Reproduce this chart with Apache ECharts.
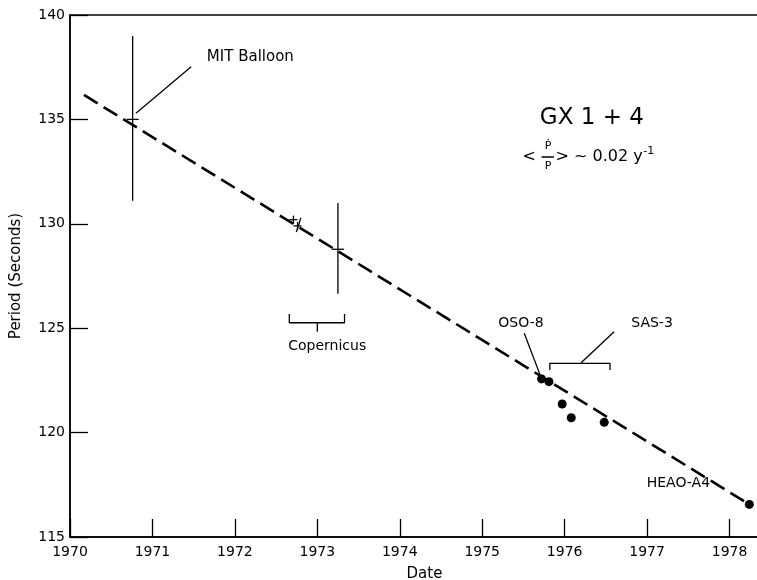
<!DOCTYPE html>
<html>
<head>
<meta charset="utf-8">
<script src="https://cdn.jsdelivr.net/npm/echarts@6/dist/echarts.min.js"></script>
<style>
  html, body { margin: 0; padding: 0; background: #fff; }
  #main { width: 757px; height: 580px; }
</style>
</head>
<body>
<div id="main"></div>
<script>
var myChart = echarts.init(document.getElementById('main'));

// fitted trend, <Pdot/P> ~ 0.02 / yr
var fitLine = [[1970.17, 136.17], [1978.24, 116.56]];
// [date, period, low, high]
var errorPoints = [[1970.76, 135.0, 131.1, 139.0], [1973.25, 128.78, 126.65, 131.0]];
// Copernicus points without bars
var crossPoints = [[1972.71, 130.2], [1972.76, 129.9]];
// OSO-8, SAS-3, HEAO-A4
var filledPoints = [
    [1975.72, 122.57], [1975.81, 122.44], [1975.97, 121.37],
    [1976.08, 120.71], [1976.48, 120.49], [1978.24, 116.56]
];
// leaders and brackets
var leaders = [
    [[1971.47, 137.52], [1970.80, 135.29]],
    [[1972.66, 125.68], [1972.66, 125.26], [1973.33, 125.26], [1973.33, 125.68]],
    [[1973.0, 125.26], [1973.0, 124.83]],
    [[1975.51, 124.76], [1975.71, 122.68]],
    [[1975.82, 123.0], [1975.82, 123.32], [1976.55, 123.32], [1976.55, 123.0]],
    [[1976.20, 123.35], [1976.60, 124.83]],
    [[1972.80, 130.29], [1972.746, 129.61]],
    [[1975.72, 133.2], [1975.87, 133.2]]
];
var labelsCenter = [
    [1973.12, 124.11, 'Copernicus'],
    [1975.47, 125.23, 'OSO-8'],
    [1977.06, 125.23, 'SAS-3'],
    [1977.38, 117.57, 'HEAO-A4']
];
var labelsLeft = [[1971.66, 137.99, 'MIT Balloon']];
var titleText = [[1976.33, 135.07, 'GX 1 + 4']];
var formulaLt = [[1975.57, 133.2, '<']];
var formulaRest = [[1975.89, 133.2, '> ~ 0.02 y']];
var formulaSmall = [
    [1975.80, 133.72, 'Ṗ'],
    [1975.80, 132.75, 'P'],
    [1977.02, 133.5, '-1']
];
var xTicks = { min: 1970, max: 1978.6, interval: 1 };
var yTicks = { min: 115, max: 140, interval: 5 };

var font = 'DejaVu Sans';

function textSeries(rows, size, align) {
    return {
        type: 'scatter',
        symbolSize: 1,
        itemStyle: { color: 'transparent', opacity: 1 },
        silent: true,
        z: 5,
        data: rows.map(function (r) { return { value: [r[0], r[1]], name: r[2] }; }),
        label: {
            show: true,
            position: 'inside',
            align: align,
            verticalAlign: 'middle',
            formatter: '{b}',
            color: '#000',
            opacity: 1,
            fontFamily: font,
            fontSize: size
        }
    };
}

var series = [{
    type: 'line',
    data: fitLine,
    showSymbol: false,
    silent: true,
    lineStyle: { color: '#000', width: 2.6, type: [16, 7] }
}, {
    type: 'custom',
    data: errorPoints.concat(crossPoints.map(function (p) { return [p[0], p[1], p[1], p[1]]; })),
    renderItem: function (params, api) {
        var c = api.coord([api.value(0), api.value(1)]);
        var lo = api.value(2), hi = api.value(3);
        var hasBar = hi > lo;
        var top = hasBar ? api.coord([api.value(0), hi])[1] : c[1] - 4;
        var bot = hasBar ? api.coord([api.value(0), lo])[1] : c[1] + 4;
        var hw = hasBar ? 6 : 4;
        var st = { stroke: '#000', lineWidth: 1.3 };
        return {
            type: 'group',
            children: [
                { type: 'line', shape: { x1: c[0], y1: top, x2: c[0], y2: bot }, style: st },
                { type: 'line', shape: { x1: c[0] - hw, y1: c[1], x2: c[0] + hw, y2: c[1] }, style: st }
            ]
        };
    }
}, {
    type: 'scatter',
    data: filledPoints,
    symbol: 'circle',
    symbolSize: 9,
    itemStyle: { color: '#000', opacity: 1 }
}];

leaders.forEach(function (seg) {
    series.push({
        type: 'line',
        data: seg,
        showSymbol: false,
        silent: true,
        lineStyle: { color: '#000', width: 1.3 }
    });
});

series.push(textSeries(labelsCenter, 14, 'center'));
series.push(textSeries(labelsLeft, 15, 'left'));
series.push(textSeries(titleText, 23, 'center'));
series.push(textSeries(formulaLt, 16, 'center'));
series.push(textSeries(formulaRest, 16, 'left'));
series.push(textSeries(formulaSmall, 11, 'center'));

option = {
    animation: false,
    grid: {
        left: 70,
        top: 15,
        bottom: 43,
        right: -22,
        outerBoundsMode: 'none',
        show: true,
        borderColor: '#000',
        borderWidth: 1.5
    },
    xAxis: {
        type: 'value',
        min: xTicks.min,
        max: xTicks.max,
        interval: xTicks.interval,
        name: 'Date',
        nameLocation: 'middle',
        nameGap: 30,
        nameTextStyle: { color: '#000', fontFamily: font, fontSize: 15 },
        axisLine: { lineStyle: { color: '#000', width: 1.5 } },
        axisTick: { inside: true, length: 18, lineStyle: { color: '#000', width: 1.3 } },
        axisLabel: {
            color: '#000', fontFamily: font, fontSize: 14, margin: 8, showMaxLabel: false,
            formatter: function (v) { return String(v); }
        },
        splitLine: { show: false }
    },
    yAxis: {
        type: 'value',
        min: yTicks.min,
        max: yTicks.max,
        interval: yTicks.interval,
        name: 'Period (Seconds)',
        nameLocation: 'middle',
        nameGap: 46,
        nameTextStyle: { color: '#000', fontFamily: font, fontSize: 15 },
        axisLine: { lineStyle: { color: '#000', width: 1.5 } },
        axisTick: { inside: true, length: 18, lineStyle: { color: '#000', width: 1.3 } },
        axisLabel: { color: '#000', fontFamily: font, fontSize: 14, margin: 5 },
        splitLine: { show: false }
    },
    series: series
};
myChart.setOption(option);
</script>
</body>
</html>
